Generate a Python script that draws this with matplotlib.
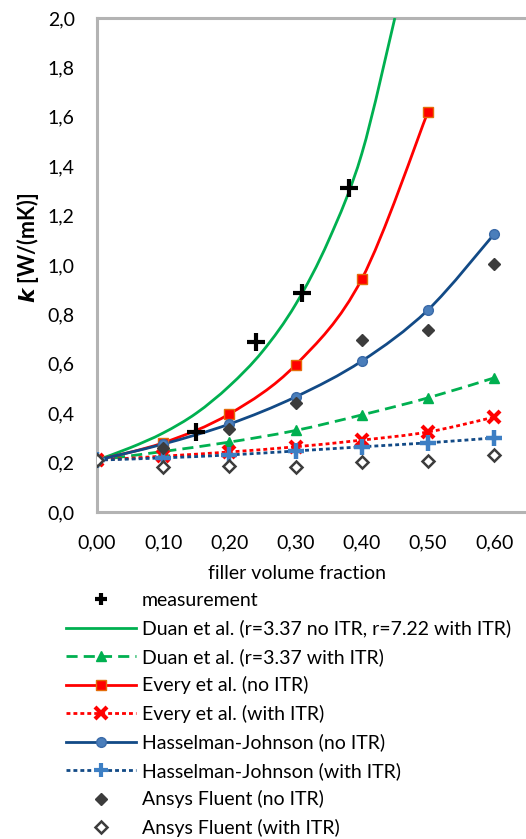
import numpy as np
import matplotlib
matplotlib.use("Agg")
import matplotlib.pyplot as plt
from matplotlib.path import Path
from matplotlib.patches import PathPatch
from matplotlib.lines import Line2D
from matplotlib.ticker import FixedLocator, FuncFormatter

plt.rcParams['font.family'] = ['Lato', 'DejaVu Sans']

# ---------------- data ----------------
x_meas = [0.15, 0.24, 0.31, 0.38]
y_meas = [0.325, 0.69, 0.887, 1.31]

x_duan = [0.0, 0.05, 0.10, 0.15, 0.20, 0.25, 0.30, 0.35, 0.40, 0.45]
y_duan = [0.21, 0.26, 0.32, 0.40, 0.51, 0.65, 0.84, 1.10, 1.45, 2.00]

x_std = [0.0, 0.1, 0.2, 0.3, 0.4, 0.5, 0.6]
y_duan_itr = [0.21, 0.245, 0.283, 0.33, 0.393, 0.462, 0.543]

x_every = [0.0, 0.1, 0.2, 0.3, 0.4, 0.5]
y_every = [0.21, 0.28, 0.397, 0.595, 0.943, 1.62]
y_every_itr = [0.21, 0.226, 0.243, 0.264, 0.291, 0.324, 0.384]

y_hj = [0.21, 0.275, 0.356, 0.466, 0.611, 0.818, 1.125]
y_hj_itr = [0.21, 0.219, 0.231, 0.247, 0.264, 0.28, 0.30]

y_ansys = [0.21, 0.26, 0.336, 0.44, 0.696, 0.737, 1.004]
y_ansys_itr = [0.21, 0.183, 0.187, 0.181, 0.203, 0.206, 0.23]

xticks = [0.0, 0.1, 0.2, 0.3, 0.4, 0.5, 0.6]
yticks = [0.0, 0.2, 0.4, 0.6, 0.8, 1.0, 1.2, 1.4, 1.6, 1.8, 2.0]

labels = ["measurement",
          "Duan et al. (r=3.37 no ITR, r=7.22 with ITR)",
          "Duan et al. (r=3.37 with ITR)",
          "Every et al. (no ITR)",
          "Every et al. (with ITR)",
          "Hasselman-Johnson (no ITR)",
          "Hasselman-Johnson (with ITR)",
          "Ansys Fluent (no ITR)",
          "Ansys Fluent (with ITR)"]

# ---------------- styles ----------------
GREEN = '#00b050'
RED = '#ff0000'
BLUE = '#124a86'
LBLUE = '#3d7fc4'
GREY = '#3c3c3c'
FS = 14


def smooth_path(xs, ys):
    xs = np.asarray(xs, float); ys = np.asarray(ys, float)
    P = np.column_stack([xs, ys])
    n = len(P)
    verts = [P[0]]
    codes = [Path.MOVETO]
    for i in range(n - 1):
        p0 = P[i - 1] if i > 0 else P[i]
        p1 = P[i]
        p2 = P[i + 1]
        p3 = P[i + 2] if i + 2 < n else P[i + 1]
        c1 = p1 + (p2 - p0) / 6.0
        c2 = p2 - (p3 - p1) / 6.0
        verts += [c1, c2, p2]
        codes += [Path.CURVE4] * 3
    return Path(verts, codes)


def add_smooth(ax, xs, ys, color, lw, ls, z):
    patch = PathPatch(smooth_path(xs, ys), facecolor='none', edgecolor=color,
                      lw=lw, linestyle=ls, zorder=z, capstyle='butt')
    ax.add_patch(patch)


W, H = 526, 839
fig = plt.figure(figsize=(W / 100, H / 100), dpi=100)
ax_left, ax_bottom, ax_top = 97 / W, (H - 512) / H, (H - 18) / H
ax = fig.add_axes([ax_left, ax_bottom, 1.0 - ax_left + 0.01, ax_top - ax_bottom])

x_right = (W + 5 - 96) / 663.0
ax.set_xlim(0, x_right)
ax.set_ylim(0, 2.0)

dash_ls = (0, (4, 2.2))
dot_ls = (0, (1.4, 1.1))
LW = 2.0

# lines
add_smooth(ax, x_duan, y_duan, GREEN, LW, '-', 3)
add_smooth(ax, x_std, y_duan_itr, GREEN, LW, dash_ls, 3)
add_smooth(ax, x_every, y_every, RED, LW, '-', 3)
add_smooth(ax, x_std, y_every_itr, RED, LW, dot_ls, 3)
add_smooth(ax, x_std, y_hj, BLUE, LW, '-', 3)
add_smooth(ax, x_std, y_hj_itr, BLUE, LW, dot_ls, 3)

# markers
ax.plot(x_std, y_duan_itr, ls='none', marker='^', ms=7, mfc=GREEN, mec=GREEN, zorder=4)
ax.plot(x_every, y_every, ls='none', marker='s', ms=7, mfc=RED, mec='#e46c0a', mew=1.0, zorder=4)
ax.plot(x_std, y_every_itr, ls='none', marker='x', ms=8, mec=RED, mew=3.0, zorder=4)
ax.plot(x_std, y_hj, ls='none', marker='o', ms=7, mfc='#4a7ebb', mec='#3a6aa8', mew=1.0, zorder=4)
ax.plot(x_std, y_hj_itr, ls='none', marker='+', ms=11, mec=LBLUE, mew=3.2, zorder=5)
ax.plot(x_std, y_ansys, ls='none', marker='D', ms=6.5, mfc=GREY, mec=GREY, zorder=6)
ax.plot(x_std, y_ansys_itr, ls='none', marker='D', ms=6.5, mfc='white', mec=GREY, mew=1.8, zorder=6)
ax.plot(x_meas, y_meas, ls='none', marker='+', ms=13, mec='black', mew=3.0, zorder=7)

# axes styling
for s in ['left', 'bottom', 'top']:
    ax.spines[s].set_color('#b3b3b3')
    ax.spines[s].set_linewidth(2.2)
ax.spines['right'].set_visible(False)
ax.xaxis.set_major_locator(FixedLocator(xticks))
ax.yaxis.set_major_locator(FixedLocator(yticks))
ax.xaxis.set_major_formatter(FuncFormatter(lambda v, p: f"{v:.2f}".replace('.', ',')))
ax.yaxis.set_major_formatter(FuncFormatter(lambda v, p: f"{v:.1f}".replace('.', ',')))
ax.tick_params(axis='both', length=0, labelsize=FS, colors='black')
ax.tick_params(axis='x', pad=16)
ax.tick_params(axis='y', pad=16)

ax.set_xlabel('filler volume fraction', fontsize=FS)
ax.xaxis.set_label_coords((295 - 97) / (W - 97), -0.107)
ax.set_ylabel(r'$\mathbfit{k}$ [W/(mK)]', fontsize=15.5, fontweight='bold')
ax.yaxis.set_label_coords(-0.13, (512 - 248) / 494)

# legend
handles = [
    Line2D([], [], ls='none', marker='+', ms=9, mec='black', mew=3.0),
    Line2D([], [], color=GREEN, lw=LW),
    Line2D([], [], color=GREEN, lw=LW, ls=dash_ls, marker='^', ms=7, mfc=GREEN, mec=GREEN),
    Line2D([], [], color=RED, lw=LW, marker='s', ms=7, mfc=RED, mec='#e46c0a'),
    Line2D([], [], color=RED, lw=LW, ls=dot_ls, marker='x', ms=8, mec=RED, mew=3.0),
    Line2D([], [], color=BLUE, lw=LW, marker='o', ms=7, mfc='#4a7ebb', mec='#3a6aa8'),
    Line2D([], [], color=BLUE, lw=LW, ls=dot_ls, marker='+', ms=10, mec=LBLUE, mew=3.0),
    Line2D([], [], ls='none', marker='D', ms=6.5, mfc=GREY, mec=GREY),
    Line2D([], [], ls='none', marker='D', ms=6.5, mfc='white', mec=GREY, mew=1.8),
]
fig.legend(handles, labels, loc='upper left', bbox_to_anchor=(66 / W, 1 - 592 / H),
           frameon=False, fontsize=FS, handlelength=3.6, handletextpad=0.3,
           labelspacing=0.54, borderpad=0, borderaxespad=0, numpoints=1)

fig.savefig('out.png', dpi=100)
